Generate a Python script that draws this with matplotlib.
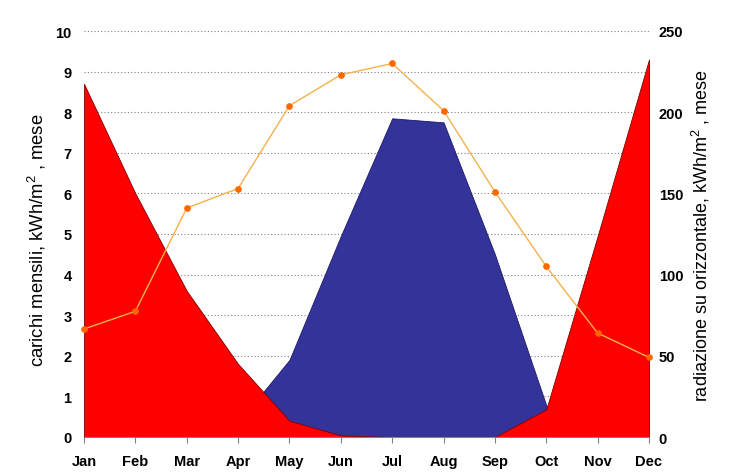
import matplotlib
matplotlib.use("Agg")
import matplotlib.pyplot as plt

months = ["Jan", "Feb", "Mar", "Apr", "May", "Jun", "Jul", "Aug", "Sep", "Oct", "Nov", "Dec"]
heating = [8.7, 6.0, 3.6, 1.8, 0.4, 0.04, 0.0, 0.0, 0.0, 0.68, 4.95, 9.3]
cooling = [0.0, 0.0, 0.0, 0.35, 1.9, 4.95, 7.85, 7.75, 4.5, 0.78, 0.0, 0.0]
radiation = [66.5, 77.4, 141, 153, 204, 223, 230, 201, 151, 105, 64, 49]
left_ticks = list(range(0, 11))
right_ticks = [0, 50, 100, 150, 200, 250]

plt.rcParams['font.family'] = ['Liberation Sans', 'DejaVu Sans']
plt.rcParams['mathtext.fontset'] = 'custom'
plt.rcParams['mathtext.rm'] = 'Liberation Sans'
plt.rcParams['mathtext.it'] = 'Liberation Sans'

fig = plt.figure(figsize=(7.31, 4.77), dpi=100)
ax = fig.add_axes([84/731, 1-438/477, (649-84)/731, (438-32)/477])
x = list(range(len(months)))

ax.fill_between(x, 0, cooling, color='#333399', edgecolor='#1a1a66', linewidth=0.6, zorder=2)
ax.fill_between(x, 0, heating, color='#FF0000', edgecolor='#800000', linewidth=0.6, zorder=3)

ax.set_xlim(0, len(months)-1)
ax.set_ylim(0, 10)
ax.set_yticks(left_ticks)
ax.set_xticks(x)
ax.set_xticklabels(months, fontsize=10.5, fontweight='bold')
ax.set_yticklabels([str(v) for v in left_ticks], fontsize=10.5, fontweight='bold')
ax.yaxis.grid(True, color='#808080', linestyle=(0, (1, 2)), linewidth=0.8, zorder=1)
ax.set_axisbelow(True)
for s in ['top', 'left', 'right']:
    ax.spines[s].set_visible(False)
ax.spines['bottom'].set_color('#808080')
ax.spines['bottom'].set_zorder(4)
ax.tick_params(axis='x', length=4, color='#808080', pad=8)
ax.tick_params(axis='y', length=0, pad=9)
ax.set_ylabel('carichi mensili, kWh/m$^{2}$ , mese', fontsize=13.3)
ax.yaxis.set_label_coords((48-84)/565, (438-240)/406)

ax2 = ax.twinx()
ax2.plot(x, radiation, color='#F5B14C', linewidth=1.0, marker='o', markersize=3.8,
         markerfacecolor='#FF6600', markeredgecolor='#FF6600', zorder=5, clip_on=False)
ax2.set_ylim(0, 250)
ax2.set_yticks(right_ticks)
ax2.set_yticklabels([str(v) for v in right_ticks], fontsize=10.5, fontweight='bold')
for s in ['top', 'left', 'right', 'bottom']:
    ax2.spines[s].set_visible(False)
ax2.tick_params(axis='y', length=0, pad=7)
ax2.set_ylabel('radiazione su orizzontale, kWh/m$^{2}$ , mese', fontsize=13.0)
ax2.yaxis.set_label_coords((690-84)/565, (438-236)/406)

fig.savefig('out.png', dpi=100)
